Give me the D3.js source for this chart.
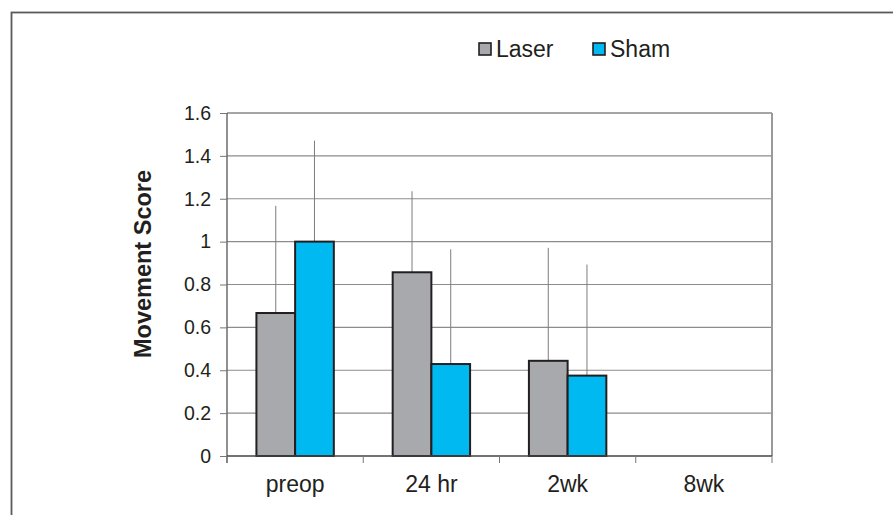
<!DOCTYPE html>
<html>
<head>
<meta charset="utf-8">
<script src="https://cdn.jsdelivr.net/npm/d3@7"></script>
<style>
  html, body { margin: 0; padding: 0; background: #fff; }
  svg { display: block; }
  text { font-family: "Liberation Sans", Arial, Helvetica, sans-serif; fill: #231f20; }
</style>
</head>
<body>
<svg id="chart" width="893" height="515"></svg>
<script>
// ---- data ----
const categories = ["preop", "24 hr", "2wk", "8wk"];
const seriesNames = ["Laser", "Sham"];
const laserValues = [0.667, 0.857, 0.444, 0];
const shamValues  = [1.0, 0.429, 0.375, 0];
const laserErrTop = [1.167, 1.235, 0.971, null];
const shamErrTop  = [1.471, 0.964, 0.893, null];
const yTicks = [0, 0.2, 0.4, 0.6, 0.8, 1.0, 1.2, 1.4, 1.6];
const yTitle = "Movement Score";

// ---- styling ----
const colors = { Laser: "#a7a9ac", Sham: "#00b9f0" };

const svg = d3.select("#chart");
const W = 893, H = 515;
const plot = { left: 227, right: 772, top: 113, bottom: 456 };

// outer frame (only top & left visible)
svg.append("rect")
  .attr("x", 11.5).attr("y", 12.5)
  .attr("width", W + 20).attr("height", H + 20)
  .attr("fill", "none").attr("stroke", "#5a5a5a").attr("stroke-width", 1.8);

const x = d3.scaleBand().domain(categories).range([plot.left, plot.right]).padding(0);
const xs = d3.scaleBand().domain(seriesNames).range([0, x.bandwidth()])
  .paddingInner(0).paddingOuter(0.76);
const y = d3.scaleLinear().domain([0, 1.6]).range([plot.bottom, plot.top]);

// gridlines
svg.append("g").selectAll("line")
  .data(yTicks.filter(d => d > 0))
  .join("line")
  .attr("x1", plot.left).attr("x2", plot.right)
  .attr("y1", d => y(d)).attr("y2", d => y(d))
  .attr("stroke", "#8c8c8c").attr("stroke-width", 1.1);

// right frame
svg.append("line")
  .attr("x1", plot.right).attr("x2", plot.right)
  .attr("y1", plot.top).attr("y2", plot.bottom)
  .attr("stroke", "#9a9a9a").attr("stroke-width", 2);
svg.append("line")
  .attr("x1", plot.left).attr("x2", plot.right)
  .attr("y1", plot.top).attr("y2", plot.top)
  .attr("stroke", "#9a9a9a").attr("stroke-width", 1.6);

// data table
const rows = [];
categories.forEach((c, i) => {
  rows.push({ cat: c, s: "Laser", v: laserValues[i], e: laserErrTop[i] });
  rows.push({ cat: c, s: "Sham", v: shamValues[i], e: shamErrTop[i] });
});

// error bars (upper only)
svg.append("g").selectAll("line")
  .data(rows.filter(d => d.e != null))
  .join("line")
  .attr("x1", d => x(d.cat) + xs(d.s) + xs.bandwidth() / 2)
  .attr("x2", d => x(d.cat) + xs(d.s) + xs.bandwidth() / 2)
  .attr("y1", d => y(d.e)).attr("y2", d => y(d.v))
  .attr("stroke", "#7d7d7d").attr("stroke-width", 1);

// bars
svg.append("g").selectAll("rect")
  .data(rows.filter(d => d.v > 0))
  .join("rect")
  .attr("x", d => x(d.cat) + xs(d.s))
  .attr("y", d => y(d.v))
  .attr("width", xs.bandwidth())
  .attr("height", d => y(0) - y(d.v))
  .attr("fill", d => colors[d.s])
  .attr("stroke", "#231f20").attr("stroke-width", 2);

// y axis
const yAxis = d3.axisLeft(y).tickValues(yTicks).tickSize(7).tickPadding(9)
  .tickFormat(d3.format("~g"));
const gy = svg.append("g").attr("transform", `translate(${plot.left},0)`).call(yAxis);
gy.select(".domain").attr("stroke", "#555").attr("stroke-width", 1.3)
  .attr("d", `M0,${plot.top}V${plot.bottom + 7}`);
gy.selectAll(".tick line").attr("stroke", "#777");
gy.selectAll(".tick text").attr("font-size", 19.5).attr("fill", "#231f20")
  .attr("font-family", "'Liberation Sans', Arial, sans-serif");

// x axis
const boundaries = categories.map(c => x(c)).concat([plot.right]);
svg.append("line")
  .attr("x1", plot.left).attr("x2", plot.right)
  .attr("y1", plot.bottom).attr("y2", plot.bottom)
  .attr("stroke", "#444").attr("stroke-width", 1.4);
svg.append("g").selectAll("line")
  .data(boundaries)
  .join("line")
  .attr("x1", d => d).attr("x2", d => d)
  .attr("y1", plot.bottom).attr("y2", plot.bottom + 7)
  .attr("stroke", "#777").attr("stroke-width", 1);
svg.append("g").selectAll("text")
  .data(categories)
  .join("text")
  .attr("x", d => x(d) + x.bandwidth() / 2)
  .attr("y", 492)
  .attr("text-anchor", "middle")
  .attr("font-size", 23)
  .text(d => d);

// y title
svg.append("text")
  .attr("transform", `translate(151,264) rotate(-90)`)
  .attr("text-anchor", "middle")
  .attr("font-size", 23.5)
  .attr("font-weight", "bold")
  .text(yTitle);

// legend
const legendX = [479, 593];
const lg = svg.append("g").selectAll("g")
  .data(seriesNames)
  .join("g")
  .attr("transform", (d, i) => `translate(${legendX[i]},43)`);
lg.append("rect")
  .attr("width", 12).attr("height", 12)
  .attr("fill", d => colors[d])
  .attr("stroke", "#231f20").attr("stroke-width", 1.6);
lg.append("text")
  .attr("x", 17).attr("y", 13.5)
  .attr("font-size", 23)
  .text(d => d);
</script>
</body>
</html>
